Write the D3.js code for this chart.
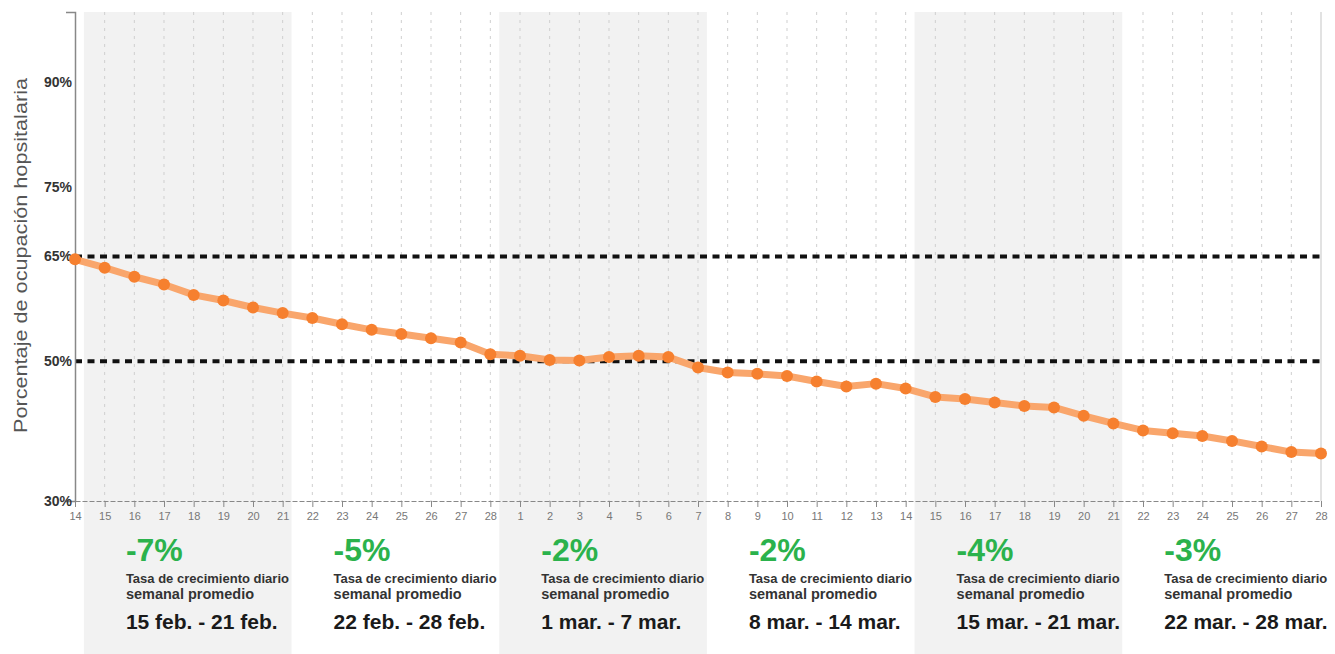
<!DOCTYPE html>
<html><head><meta charset="utf-8">
<script src="https://cdn.jsdelivr.net/npm/d3@7"></script>
<style>body{margin:0;background:#fff} svg{display:block}</style>
</head><body>
<svg id="chart" width="1335" height="654"></svg>
<script>
const dates = [
 "2021-02-14","2021-02-15","2021-02-16","2021-02-17","2021-02-18","2021-02-19","2021-02-20","2021-02-21",
 "2021-02-22","2021-02-23","2021-02-24","2021-02-25","2021-02-26","2021-02-27","2021-02-28",
 "2021-03-01","2021-03-02","2021-03-03","2021-03-04","2021-03-05","2021-03-06","2021-03-07",
 "2021-03-08","2021-03-09","2021-03-10","2021-03-11","2021-03-12","2021-03-13","2021-03-14",
 "2021-03-15","2021-03-16","2021-03-17","2021-03-18","2021-03-19","2021-03-20","2021-03-21",
 "2021-03-22","2021-03-23","2021-03-24","2021-03-25","2021-03-26","2021-03-27","2021-03-28"];
const occupancy = [
 64.6, 63.4, 62.1, 61.0, 59.5, 58.7, 57.7, 56.9,
 56.2, 55.3, 54.5, 53.9, 53.3, 52.7, 51.0,
 50.8, 50.2, 50.1, 50.6, 50.8, 50.6, 49.1,
 48.4, 48.2, 47.9, 47.1, 46.4, 46.8, 46.1,
 44.9, 44.6, 44.1, 43.6, 43.4, 42.2, 41.1,
 40.1, 39.7, 39.3, 38.6, 37.8, 37.0, 36.8];
const yTicks = [30, 50, 65, 75, 90];
const thresholds = [65, 50];
const weekStarts = ["2021-02-15","2021-02-22","2021-03-01","2021-03-08","2021-03-15","2021-03-22"];
const weekEnds   = ["2021-02-21","2021-02-28","2021-03-07","2021-03-14","2021-03-21","2021-03-28"];
const weekRates  = ["-7%","-5%","-2%","-2%","-4%","-3%"];
const weekLabels = ["15 feb. - 21 feb.","22 feb. - 28 feb.","1 mar. - 7 mar.","8 mar. - 14 mar.","15 mar. - 21 mar.","22 mar. - 28 mar."];
const weekShaded = [true, false, true, false, true, false];
const captionLines = ["Tasa de crecimiento diario", "semanal promedio"];
const yTitle = "Porcentaje de ocupación hopsitalaria";

(function () {
const W = 1335, H = 654;
const pLeft = 75, pRight = 1321, pTop = 12, pBottom = 501;
const parse = d3.utcParse("%Y-%m-%d");
const dts = dates.map(parse);
const svg = d3.select("#chart");
const x = d3.scaleUtc().domain([dts[0], dts[dts.length-1]]).range([pLeft, pRight]);
const y = d3.scaleLinear().domain([30, 100]).range([pBottom, pTop]);
const day = x(dts[1]) - x(dts[0]);
const FONT = "'Liberation Sans', Arial, sans-serif";

// week bands
const defs = svg.append("defs");
weekStarts.forEach((s, i) => {
  const x0 = x(parse(s)) - 0.7 * day;
  const x1 = x(parse(weekEnds[i])) + 0.3 * day;
  if (weekShaded[i]) {
    svg.append("rect").attr("x", x0).attr("y", pTop).attr("width", x1 - x0).attr("height", H - pTop).attr("fill", "#f2f2f2");
  }
  defs.append("clipPath").attr("id", "clip" + i).append("rect")
    .attr("x", x0).attr("y", 520).attr("width", (i === weekStarts.length - 1 ? W - x0 : x1 - x0)).attr("height", H - 520);
});

// vertical dotted gridlines
svg.append("g").selectAll("line").data(dts.slice(1, -1)).join("line")
  .attr("x1", d => x(d)).attr("x2", d => x(d)).attr("y1", pTop).attr("y2", pBottom)
  .attr("stroke", "#cfcfcf").attr("stroke-width", 1).attr("stroke-dasharray", "3,5");
svg.append("line").attr("x1", x(dts[dts.length-1])).attr("x2", x(dts[dts.length-1]))
  .attr("y1", pTop).attr("y2", pBottom).attr("stroke", "#e2e2e2").attr("stroke-width", 2);

// threshold lines
svg.append("g").selectAll("line").data(thresholds).join("line")
  .attr("x1", pLeft).attr("x2", pRight).attr("y1", d => y(d)).attr("y2", d => y(d))
  .attr("stroke", "#111").attr("stroke-width", 4).attr("stroke-dasharray", "7,5.5");

// x axis
const xAxis = svg.append("g").attr("transform", `translate(0,${pBottom})`)
  .call(d3.axisBottom(x).tickValues(dts).tickFormat(d3.utcFormat("%-d")).tickSize(6).tickSizeOuter(0).tickPadding(5));
xAxis.select(".domain").attr("stroke", "#888").attr("stroke-dasharray", "5,2");
xAxis.selectAll(".tick line").attr("stroke", "#888");
xAxis.selectAll("text").attr("fill", "#777").attr("font-size", 11).attr("font-family", FONT);

// y axis
const yAxis = svg.append("g").attr("transform", `translate(${pLeft},0)`)
  .call(d3.axisLeft(y).tickValues(yTicks).tickFormat(d => d + "%").tickSize(0).tickSizeOuter(9).tickPadding(3));
yAxis.select(".domain").attr("stroke", "#888").attr("stroke-width", 1.5);
yAxis.selectAll("text").attr("fill", "#333").attr("font-size", 14).attr("font-weight", "bold").attr("font-family", FONT);

// y title
svg.append("text").attr("transform", "translate(27,255.5) rotate(-90)")
  .attr("text-anchor", "middle").attr("font-family", FONT).attr("font-size", 18)
  .attr("fill", "#555").attr("textLength", 355).attr("lengthAdjust", "spacingAndGlyphs").text(yTitle);

// line and dots
const pts = dts.map((d, i) => [x(d), y(occupancy[i])]);
svg.append("path").attr("d", d3.line()(pts)).attr("fill", "none")
  .attr("stroke", "#f9a66c").attr("stroke-width", 7).attr("stroke-linejoin", "round");
svg.append("g").selectAll("circle").data(pts).join("circle")
  .attr("cx", d => d[0]).attr("cy", d => d[1]).attr("r", 6).attr("fill", "#f6802f");

// week text blocks
weekStarts.forEach((s, i) => {
  const tx = x(parse(s)) - 0.7 * day + 42;
  const g = svg.append("g").attr("clip-path", `url(#clip${i})`).attr("font-family", FONT).attr("font-weight", "bold");
  g.append("text").attr("x", tx).attr("y", 561).attr("font-size", 32).attr("fill", "#2bb24c").text(weekRates[i]);
  g.append("text").attr("x", tx).attr("y", 582.5).attr("font-size", 13).attr("fill", "#333").text(captionLines[0]);
  g.append("text").attr("x", tx).attr("y", 599).attr("font-size", 14.5).attr("fill", "#333").text(captionLines[1]);
  g.append("text").attr("x", tx).attr("y", 629).attr("font-size", 21).attr("fill", "#1a1a1a").text(weekLabels[i]);
});
})();
</script>
</body></html>
